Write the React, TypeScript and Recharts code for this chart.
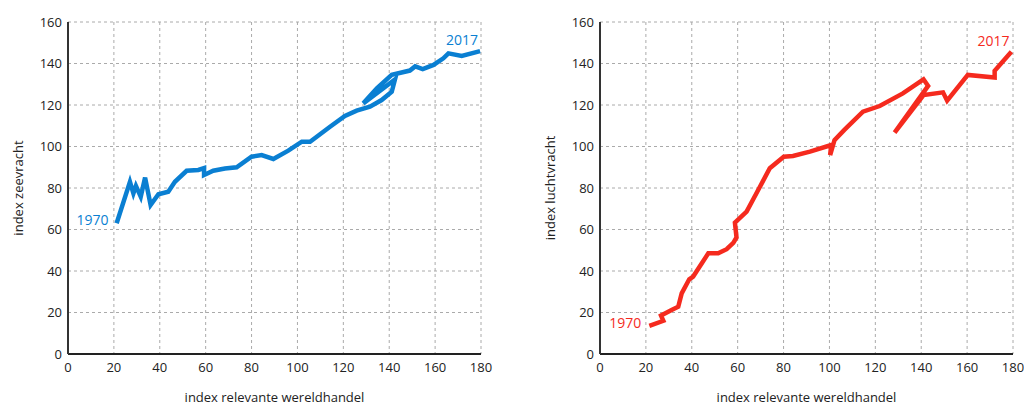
import { LineChart, Line, XAxis, YAxis, CartesianGrid, ReferenceDot } from 'recharts';

// index relevante wereldhandel (x) vs index vracht (y), 1970-2017
const seaTrade = [
  21.2, 27, 28.5, 29.6, 31.7, 33.6, 36, 39.4, 43.7, 46.6, 51.7, 56.8, 59.3, 59.3, 63.3, 68.4, 73.5, 80, 84.4, 89.5,
  96, 101.9, 105.5, 114.2, 120.7, 125.8, 131.6, 136.7, 141.1, 142.5, 128.7, 134.6, 141.1, 149, 151.3, 154.6, 159.3,
  163.6, 165.8, 171.6, 179.6,
];
const seaFreight = [
  63, 83, 77.4, 81, 75.8, 85, 71.8, 77, 78.2, 83, 88.3, 88.7, 89.6, 86.3, 88.3, 89.4, 90, 95.1, 95.9, 94, 98, 102.3,
  102.3, 109.5, 114.7, 117.3, 119.2, 122.4, 126.4, 132.3, 120.8, 128, 134.5, 136.6, 138.6, 137.3, 139.3, 142.5,
  144.9, 143.6, 146,
];

const airTrade = [
  21.5, 27.6, 26.6, 31.2, 34.1, 35.6, 38.9, 40.6, 47.2, 51.5, 55.2, 58.1, 59.5, 58.8, 63.9, 69.7, 74, 80.1, 84.1,
  91.5, 100.8, 100.3, 102.2, 106.5, 114.6, 121.9, 132, 141, 143, 128.4, 141, 149.5, 151.3, 160.3, 172, 172, 179.3,
];
const airFreight = [
  13.6, 16, 18.5, 21.2, 22.8, 29.2, 36, 37.3, 48.5, 48.5, 50.5, 53.6, 56.2, 63.3, 68.6, 80.6, 89.5, 95.1, 95.4,
  97.5, 100.7, 95.9, 103.1, 108, 116.8, 119.5, 125.6, 132.4, 129.2, 106.7, 124.8, 126.1, 122.1, 134.5, 133.2,
  136.5, 145.7,
];

const xTicks = [0, 20, 40, 60, 80, 100, 120, 140, 160, 180];
const yTicks = [0, 20, 40, 60, 80, 100, 120, 140, 160];
const firstYear = '1970';
const lastYear = '2017';

const FONT = '"Open Sans", sans-serif';

interface PanelProps {
  xs: number[];
  ys: number[];
  color: string;
  yLabel: string;
  width: number;
  rightMargin: number;
}

function Panel({ xs, ys, color, yLabel, width, rightMargin }: PanelProps) {
  const data = xs.map((x, i) => ({ x, y: ys[i] }));
  const first = data[0];
  const last = data[data.length - 1];
  const tick = { fontSize: 13, fill: '#222', fontFamily: FONT };

  return (
    <LineChart
      width={width}
      height={405}
      data={data}
      margin={{ top: 22, right: rightMargin, left: 0, bottom: 0 }}
    >
      <CartesianGrid stroke="#aaa" strokeDasharray="3 3" />
      <XAxis
        dataKey="x"
        type="number"
        domain={[0, 180]}
        ticks={xTicks}
        height={51}
        tickLine={false}
        tickSize={6}
        tickMargin={3}
        tick={tick}
        axisLine={{ stroke: '#222', strokeWidth: 2 }}
        label={{
          value: 'index relevante wereldhandel',
          position: 'insideBottom',
          offset: 3,
          style: { fontSize: 13, fill: '#222', fontFamily: FONT },
        }}
      />
      <YAxis
        dataKey="y"
        type="number"
        domain={[0, 160]}
        ticks={yTicks}
        width={68}
        tickLine={false}
        tickSize={4}
        tickMargin={2}
        tick={tick}
        axisLine={{ stroke: '#333', strokeWidth: 2 }}
        label={{
          value: yLabel,
          angle: -90,
          position: 'insideLeft',
          offset: 18,
          style: { textAnchor: 'middle', fontSize: 13, fill: '#222', fontFamily: FONT },
        }}
      />
      <Line
        type="linear"
        dataKey="y"
        stroke={color}
        strokeWidth={4.5}
        dot={false}
        isAnimationActive={false}
      />
      <ReferenceDot
        x={first.x}
        y={first.y}
        r={0}
        stroke="none"
        label={{
          value: firstYear,
          position: 'left',
          offset: 8,
          dy: -3,
          style: { fontSize: 14, fill: color, fontFamily: FONT },
        }}
      />
      <ReferenceDot
        x={last.x}
        y={last.y}
        r={0}
        stroke="none"
        label={{
          value: lastYear,
          position: 'top',
          offset: 6,
          dx: -18,
          style: { fontSize: 14, fill: color, fontFamily: FONT },
        }}
      />
    </LineChart>
  );
}

export default function App() {
  return (
    <div
      style={{
        position: 'absolute',
        left: 0,
        top: 0,
        width: 1024,
        height: 405,
        overflow: 'hidden',
        background: '#fff',
        fontFamily: FONT,
      }}
    >
      <div style={{ position: 'absolute', left: 0, top: 0 }}>
        <Panel xs={seaTrade} ys={seaFreight} color="#0a7fd2" yLabel="index zeevracht" width={500} rightMargin={19} />
      </div>
      <div style={{ position: 'absolute', left: 532, top: 0 }}>
        <Panel xs={airTrade} ys={airFreight} color="#f52a1e" yLabel="index luchtvracht" width={492} rightMargin={11} />
      </div>
    </div>
  );
}
